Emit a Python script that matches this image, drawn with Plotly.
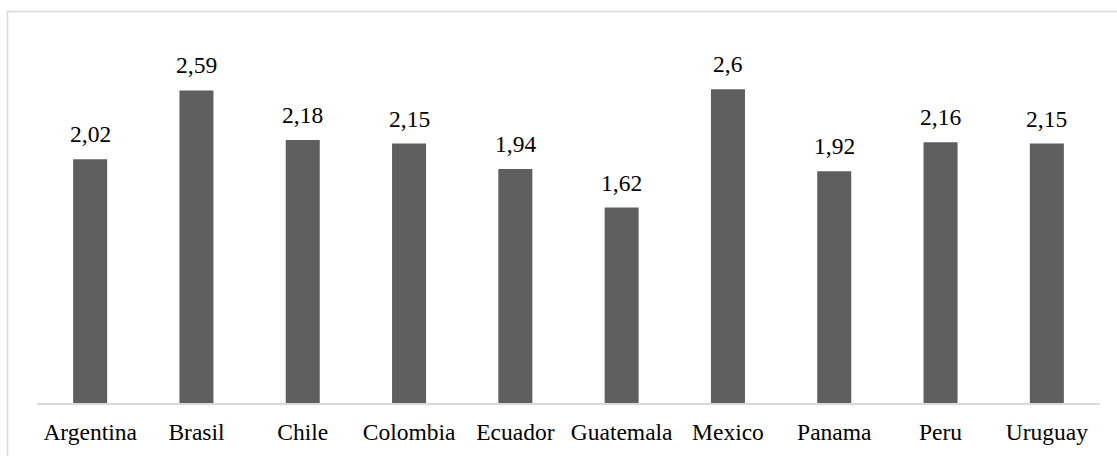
import plotly.graph_objects as go

countries = ["Argentina", "Brasil", "Chile", "Colombia", "Ecuador",
             "Guatemala", "Mexico", "Panama", "Peru", "Uruguay"]
values = [2.02, 2.59, 2.18, 2.15, 1.94, 1.62, 2.6, 1.92, 2.16, 2.15]

W, H = 1117, 456
L, R, T, B = 37, 1100, 41, 403
FONT = "Liberation Serif"
FSIZE = 23.5


def fmt(v):
    # decimal comma, trailing zeros dropped
    return f"{v:g}".replace(".", ",")


fig = go.Figure(go.Bar(
    x=countries,
    y=values,
    marker=dict(color="#5f5f5f", line=dict(width=0)),
    hoverinfo="skip",
))

for c, v in zip(countries, values):
    fig.add_annotation(
        x=c, y=v, text=fmt(v), showarrow=False,
        xanchor="center", yanchor="bottom", yshift=10,
        font=dict(family=FONT, size=FSIZE, color="#000000"),
    )


def px_to_paper_x(px):
    return (px - L) / (R - L)


def px_to_paper_y(py):
    return (B - py) / (B - T)


# outer chart frame (runs past the right and bottom edges)
fig.add_shape(
    type="rect", xref="paper", yref="paper", layer="below",
    x0=px_to_paper_x(7.5), x1=px_to_paper_x(1125),
    y0=px_to_paper_y(470), y1=px_to_paper_y(11.5),
    line=dict(color="#d9d9d9", width=1.5), fillcolor="rgba(0,0,0,0)",
)

fig.update_layout(
    width=W, height=H,
    margin=dict(l=L, r=W - R, t=T, b=H - B, pad=0),
    paper_bgcolor="white", plot_bgcolor="white",
    bargap=0.68,
    showlegend=False,
    font=dict(family=FONT, size=FSIZE, color="#000000"),
    xaxis=dict(
        showline=True, linecolor="#d9d9d9", linewidth=1.5,
        ticks="", showgrid=False, zeroline=False,
        tickangle=0, automargin=False,
        tickfont=dict(family=FONT, size=FSIZE, color="#000000"),
        ticklabelstandoff=7,
    ),
    yaxis=dict(
        range=[0, 3], showticklabels=False, showgrid=False,
        zeroline=False, showline=False, ticks="",
    ),
)

fig.write_html("out.html")
